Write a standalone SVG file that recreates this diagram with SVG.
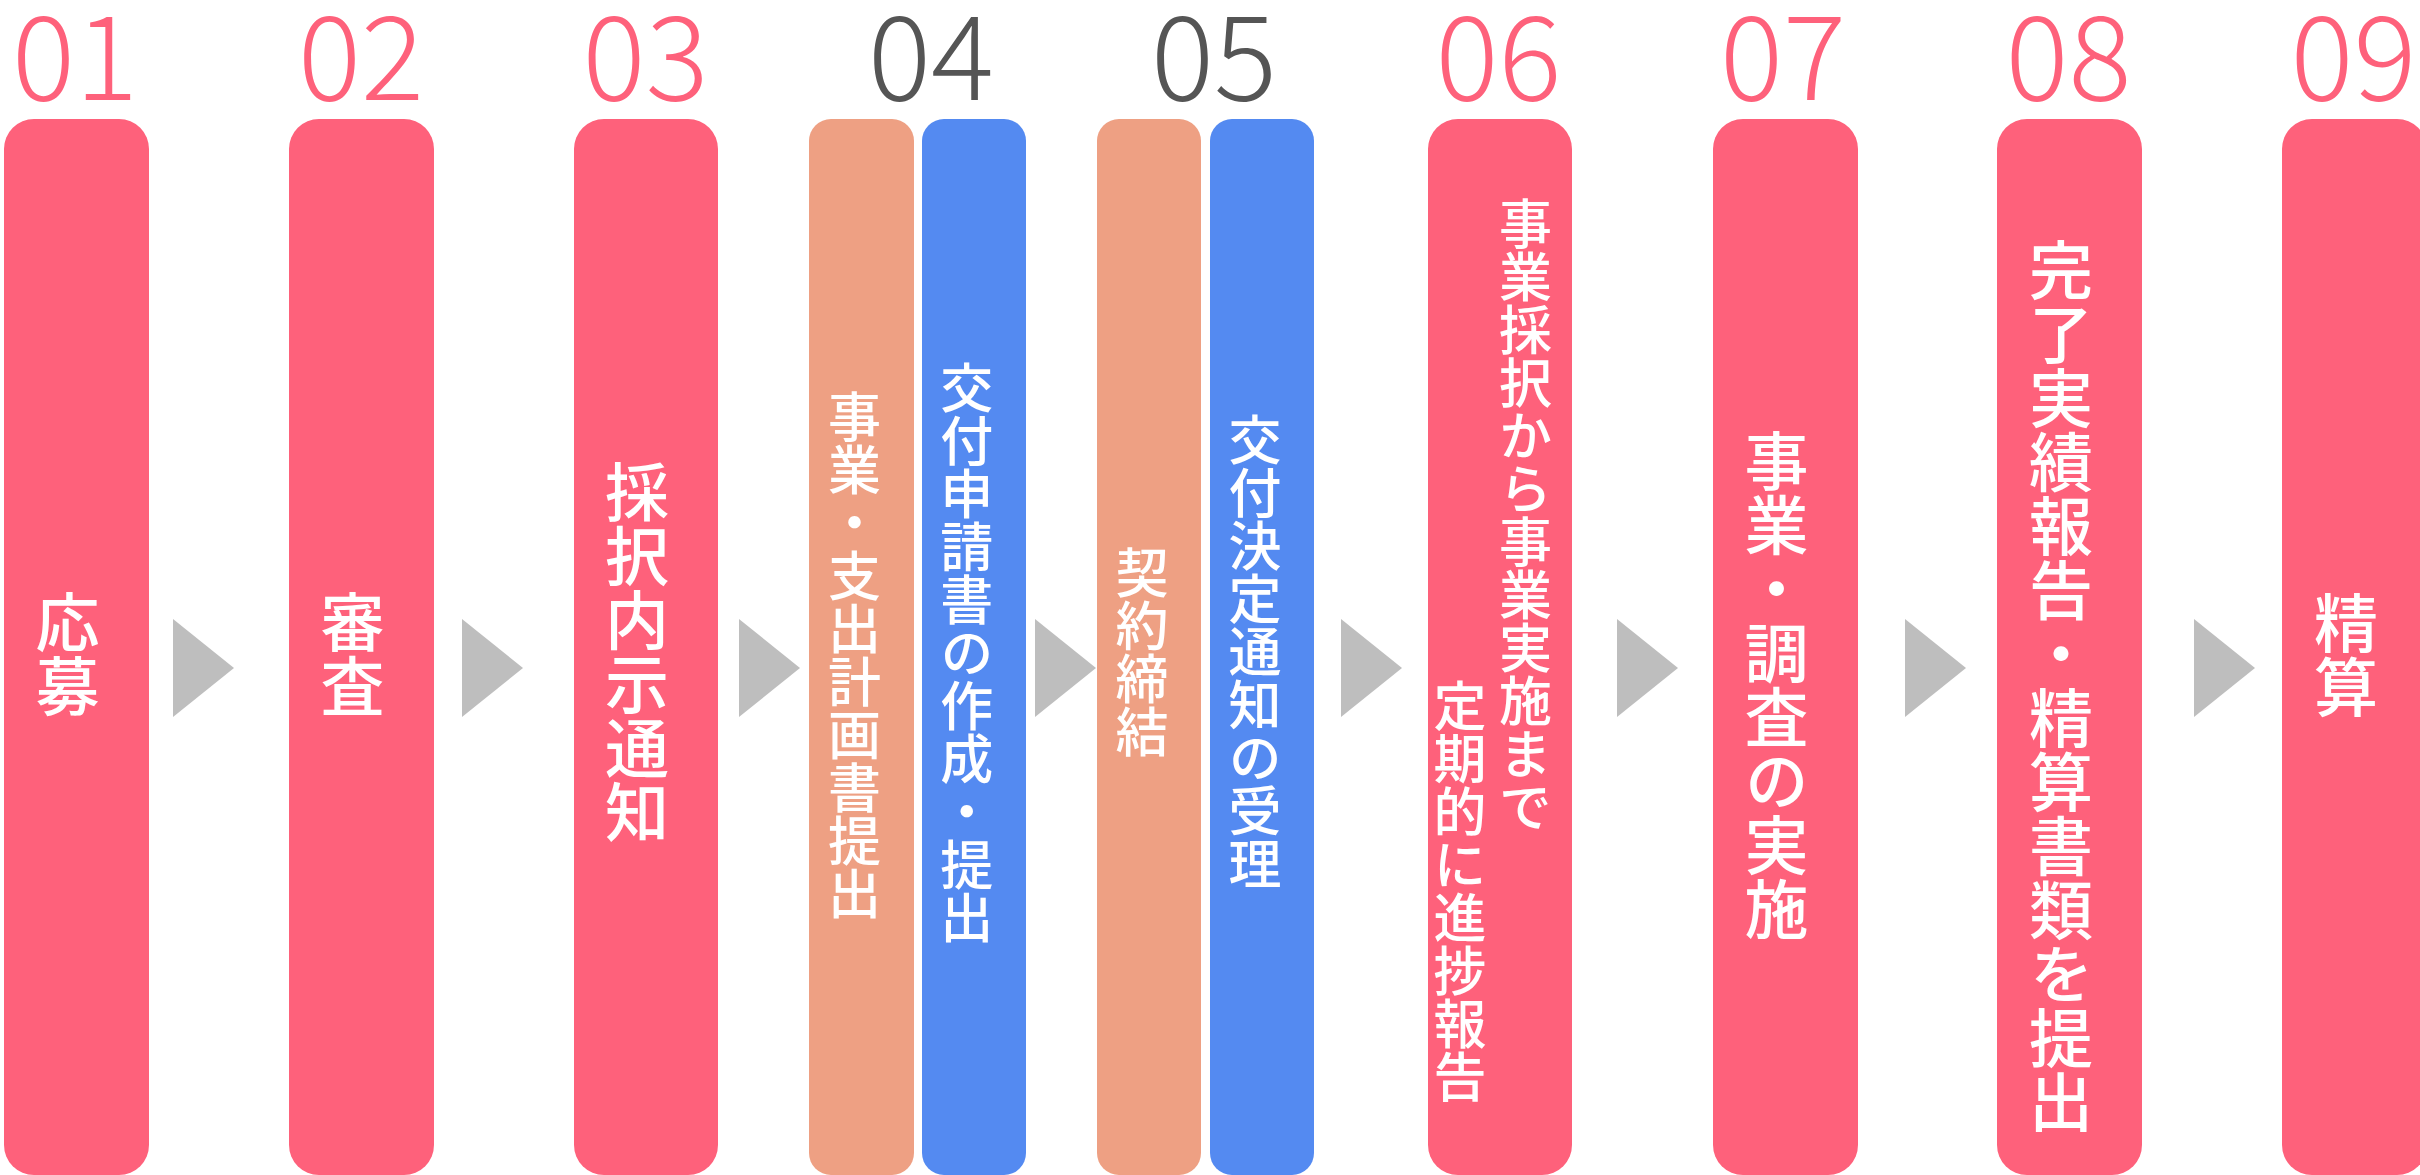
<svg xmlns="http://www.w3.org/2000/svg" width="2420" height="1175" viewBox="0 0 2420 1175">
<style>
.bg{fill:#ffffff}
.pink{fill:#FE617B}
.orange{fill:#EEA083}
.blue{fill:#548AF1}
.arrow{fill:#BEBEBE}
.num{font-family:"Noto Sans CJK JP","Noto Sans",sans-serif;font-weight:300;font-size:117px;text-anchor:middle}
.np{fill:#FE617B}
.ng{fill:#555555}
.lbl{font-family:"Noto Sans CJK JP",sans-serif;font-weight:500;fill:#ffffff;writing-mode:vertical-rl;text-anchor:middle}
.l64{font-size:64px}
.l53{font-size:53px}
</style>
<rect class="bg" x="0" y="0" width="2420" height="1175"/>
<g id="connectors">
<polygon class="arrow" points="173,619 234,668 173,717"/>
<polygon class="arrow" points="462,619 523,668 462,717"/>
<polygon class="arrow" points="739,619 800,668 739,717"/>
<polygon class="arrow" points="1035,619 1096,668 1035,717"/>
<polygon class="arrow" points="1341,619 1402,668 1341,717"/>
<polygon class="arrow" points="1617,619 1678,668 1617,717"/>
<polygon class="arrow" points="1905,619 1966,668 1905,717"/>
<polygon class="arrow" points="2194,619 2255,668 2194,717"/>
</g>
<g id="step01">
<text class="num np" x="75" y="99.5" textLength="126" lengthAdjust="spacingAndGlyphs">01</text>
<rect class="pink" x="4" y="119" width="145" height="1056" rx="30" ry="30"/>
<text class="lbl l64" x="67.5" y="654">応募</text>
</g>
<g id="step02">
<text class="num np" x="361" y="99.5" textLength="126" lengthAdjust="spacingAndGlyphs">02</text>
<rect class="pink" x="289" y="119" width="145" height="1056" rx="30" ry="30"/>
<text class="lbl l64" x="352.5" y="654">審査</text>
</g>
<g id="step03">
<text class="num np" x="645.5" y="99.5" textLength="126" lengthAdjust="spacingAndGlyphs">03</text>
<rect class="pink" x="574" y="119" width="144" height="1056" rx="30" ry="30"/>
<text class="lbl l64" x="637" y="652">採択内示通知</text>
</g>
<g id="step04">
<text class="num ng" x="931" y="99.5" textLength="126" lengthAdjust="spacingAndGlyphs">04</text>
<rect class="orange" x="809" y="119" width="105" height="1056" rx="22" ry="22"/>
<text class="lbl l53" x="854.5" y="655">事業・支出計画書提出</text>
<rect class="blue" x="922" y="119" width="104" height="1056" rx="22" ry="22"/>
<text class="lbl l53" x="966.7" y="653">交付申請書の作成・提出</text>
</g>
<g id="step05">
<text class="num ng" x="1214" y="99.5" textLength="126" lengthAdjust="spacingAndGlyphs">05</text>
<rect class="orange" x="1097" y="119" width="104" height="1056" rx="22" ry="22"/>
<text class="lbl l53" x="1142" y="652.5">契約締結</text>
<rect class="blue" x="1210" y="119" width="104" height="1056" rx="22" ry="22"/>
<text class="lbl l53" x="1255" y="652">交付決定通知の受理</text>
</g>
<g id="step06">
<text class="num np" x="1498.5" y="99.5" textLength="126" lengthAdjust="spacingAndGlyphs">06</text>
<rect class="pink" x="1428" y="119" width="144" height="1056" rx="30" ry="30"/>
<text class="lbl l53" x="1525.5" y="515.5">事業採択から事業実施まで</text>
<text class="lbl l53" x="1460" y="891">定期的に進捗報告</text>
</g>
<g id="step07">
<text class="num np" x="1783" y="99.5" textLength="126" lengthAdjust="spacingAndGlyphs">07</text>
<rect class="pink" x="1713" y="119" width="145" height="1056" rx="30" ry="30"/>
<text class="lbl l64" x="1776.5" y="685">事業・調査の実施</text>
</g>
<g id="step08">
<text class="num np" x="2068.5" y="99.5" textLength="126" lengthAdjust="spacingAndGlyphs">08</text>
<rect class="pink" x="1997" y="119" width="145" height="1056" rx="30" ry="30"/>
<text class="lbl l64" x="2061" y="685.5">完了実績報告・精算書類を提出</text>
</g>
<g id="step09">
<text class="num np" x="2353.5" y="99.5" textLength="126" lengthAdjust="spacingAndGlyphs">09</text>
<rect class="pink" x="2282" y="119" width="145" height="1056" rx="30" ry="30"/>
<text class="lbl l64" x="2346" y="655">精算</text>
</g>
</svg>
